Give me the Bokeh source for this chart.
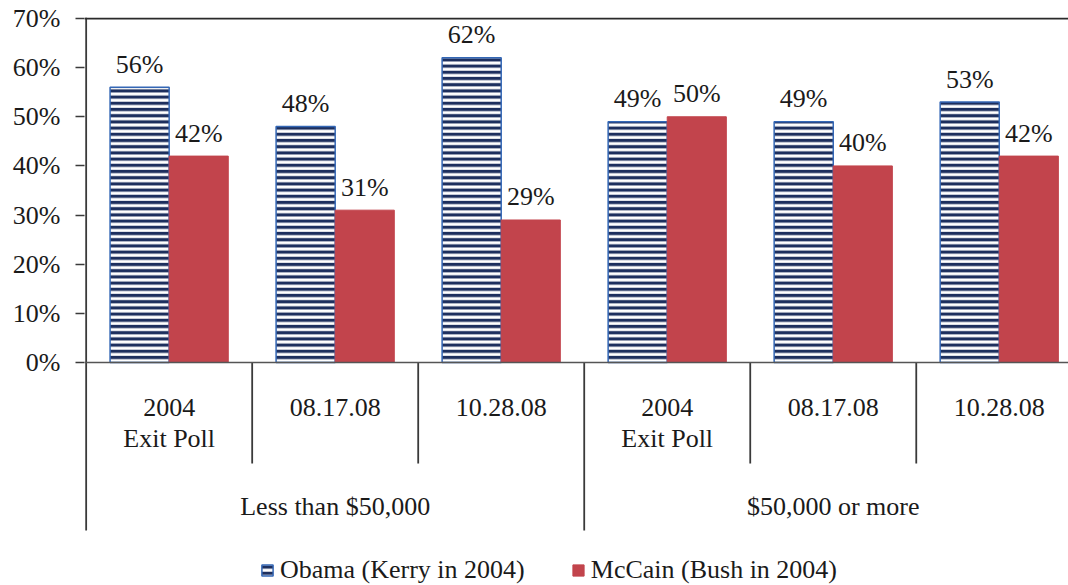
from bokeh.plotting import figure
from bokeh.models import Range1d, FixedTicker, Span, Legend, LegendItem, ColumnDataSource
from bokeh.core.properties import value
from bokeh.embed import file_html
from bokeh.resources import INLINE

# ---- data ----
groups = ["Less than $50,000", "$50,000 or more"]
categories = ["2004\nExit Poll", "08.17.08", "10.28.08", "2004\nExit Poll", "08.17.08", "10.28.08"]
obama = [56, 48, 62, 49, 49, 53]
mccain = [42, 31, 29, 50, 40, 42]
series_names = ["Obama (Kerry in 2004)", "McCain (Bush in 2004)"]
y_ticks = [0, 10, 20, 30, 40, 50, 60, 70]
y_tick_labels = ["0%", "10%", "20%", "30%", "40%", "50%", "60%", "70%"]

FONT = value("Liberation Serif")
FS = "26px"
TXT = "#1a1a1a"
LINE = "#3a3a3a"
BLUE_EDGE = "#3467b5"
NAVY = "#1d2f5e"
RED = "#c2444c"

n = len(categories)
PX_PER_UNIT = 4.915
bar_w = 0.356
half = 0.178

xc = [i + 0.5 for i in range(n)]
ob_x = [c - half for c in xc]
mc_x = [c + half for c in xc]

p = figure(width=1068, height=585, output_backend="svg", toolbar_location=None,
           x_range=Range1d(-0.01, 5.917), y_range=Range1d(-45.37, 70.2),
           x_axis_location=None, min_border_left=84, min_border_right=0,
           min_border_top=17, min_border_bottom=0)
p.outline_line_color = None
p.grid.visible = False
p.background_fill_color = "white"
p.border_fill_color = "white"

# y axis
ax = p.yaxis[0]
ax.ticker = FixedTicker(ticks=y_ticks)
ax.major_label_overrides = {t: l for t, l in zip(y_ticks, y_tick_labels)}
ax.axis_line_color = None
ax.major_tick_in = 0
ax.major_tick_out = 9
ax.major_tick_line_color = LINE
ax.major_tick_line_width = 1.5
ax.minor_tick_line_color = None
ax.major_label_text_font = "Liberation Serif"
ax.major_label_text_font_size = FS
ax.major_label_text_color = TXT
ax.major_label_standoff = 15

# bars
LAB_GAP = 23
src = ColumnDataSource(dict(ob_x=ob_x, mc_x=mc_x, obama=obama, mccain=mccain,
                            ob_lab=[f"{v}%" for v in obama], mc_lab=[f"{v}%" for v in mccain],
                            ob_ly=[v + LAB_GAP / PX_PER_UNIT for v in obama],
                            mc_ly=[v + LAB_GAP / PX_PER_UNIT for v in mccain]))
r_ob = p.vbar(x="ob_x", top="obama", bottom=0, width=bar_w, source=src,
              fill_color="white", hatch_pattern="horizontal_line", hatch_color=NAVY,
              hatch_scale=6.2, hatch_weight=3.2, line_color=BLUE_EDGE, line_width=1.5)
r_mc = p.vbar(x="mc_x", top="mccain", bottom=0, width=bar_w, source=src,
              fill_color=RED, line_color=RED, line_width=1)

p.text(x="ob_x", y="ob_ly", text="ob_lab", source=src, text_font=FONT, text_font_size=FS,
       text_color=TXT, text_align="center", text_baseline="alphabetic")
p.text(x="mc_x", y="mc_ly", text="mc_lab", source=src, text_font=FONT, text_font_size=FS,
       text_color=TXT, text_align="center", text_baseline="alphabetic")

# axis lines
p.add_layout(Span(location=70, dimension="width", line_color="#2a2a2a", line_width=2))
p.add_layout(Span(location=0, dimension="width", line_color="#555555", line_width=1.5))
p.segment(x0=[0], y0=[70.2], x1=[0], y1=[-168 / PX_PER_UNIT], line_color=LINE, line_width=1.8)

# category axis: separators and labels
inner = [i for i in range(1, n) if i % 3 != 0]
outer = [i for i in range(3, n + 1, 3)]
p.segment(x0=inner, y0=[0] * len(inner), x1=inner, y1=[-101 / PX_PER_UNIT] * len(inner),
          line_color=LINE, line_width=1.8)
p.segment(x0=outer, y0=[0] * len(outer), x1=outer, y1=[-168 / PX_PER_UNIT] * len(outer),
          line_color=LINE, line_width=1.8)

line1 = [c.split("\n")[0] for c in categories]
line2 = [c.split("\n")[1] if "\n" in c else "" for c in categories]
p.text(x=xc, y=[-45 / PX_PER_UNIT] * n, text=line1, text_font=FONT, text_font_size=FS,
       text_color=TXT, text_align="center", text_baseline="alphabetic")
p.text(x=xc, y=[-76 / PX_PER_UNIT] * n, text=line2, text_font=FONT, text_font_size=FS,
       text_color=TXT, text_align="center", text_baseline="alphabetic")
gx = [1.5 + 3 * g for g in range(len(groups))]
p.text(x=gx, y=[-144 / PX_PER_UNIT] * len(groups), text=groups, text_font=FONT, text_font_size=FS,
       text_color=TXT, text_align="center", text_baseline="alphabetic")

# legend
legend = Legend(items=[LegendItem(label=series_names[0], renderers=[r_ob]),
                       LegendItem(label=series_names[1], renderers=[r_mc])],
                orientation="horizontal", location=(176, 0), padding=0, margin=0,
                spacing=46, label_standoff=6, glyph_width=14, glyph_height=14,
                label_text_font="Liberation Serif", label_text_font_size=FS,
                label_text_color=TXT, border_line_color=None, background_fill_alpha=0)
p.add_layout(legend)

open("out.html", "w").write(file_html(p, INLINE))
